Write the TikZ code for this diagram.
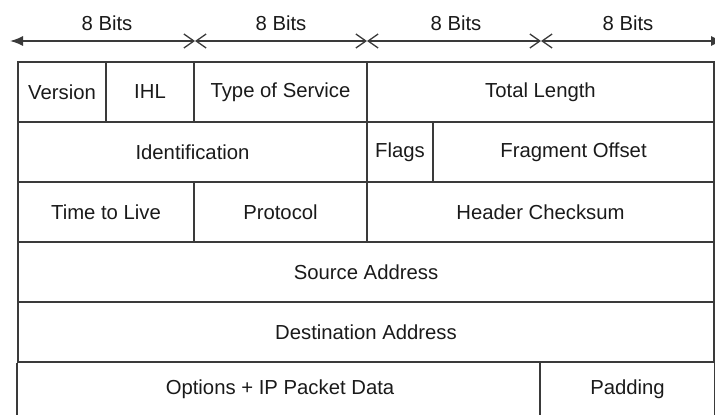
\documentclass[tikz,border=0pt]{standalone}
\usepackage{fontspec}
\setmainfont{Liberation Sans}
\usetikzlibrary{arrows.meta}
\definecolor{ln}{HTML}{3A3A3A}
\definecolor{tx}{HTML}{1A1A1A}
\tikzset{
  cell/.style={draw=ln, line width=1.6pt, inner sep=0pt, minimum height=60pt, text=tx,
    font=\fontsize{20.3}{24}\selectfont},
  lbl/.style={inner sep=0pt, text=tx, font=\fontsize{20.3}{24}\selectfont},
  rule/.style={draw=ln, line width=1.6pt},
  bitarrow/.style={draw=ln, line width=1.6pt},
  xb/.tip={Straight Barb[length=10pt,width=14pt,line width=1.3pt]},
  fb/.tip={Latex[length=13pt,width=10pt]},
}
\begin{document}
\begin{tikzpicture}[x=1pt,y=-1pt]
\useasboundingbox (0,0) rectangle (715,415);
\clip (0,0) rectangle (715,415);
% bit ruler
\coordinate (b0) at (10,41);
\coordinate (b1) at (195,41);
\coordinate (b2) at (367,41);
\coordinate (b3) at (541,41);
\coordinate (b4) at (724,41);
\draw[bitarrow, fb-xb] (b0) -- (b1);
\draw[bitarrow, xb-xb] (b1) -- (b2);
\draw[bitarrow, xb-xb] (b2) -- (b3);
\draw[bitarrow, xb-fb] (b3) -- (b4);
\node[lbl] (l1) at (107,23) {8 Bits};
\node[lbl] (l2) at (281,23) {8 Bits};
\node[lbl] (l3) at (456,23) {8 Bits};
\node[lbl] (l4) at (628,23) {8 Bits};
% row 1
\node[cell, minimum width=88] (ver) at (62,92) {Version};
\node[cell, minimum width=88] (ihl) at (150,92) {IHL};
\node[cell, minimum width=173] (tos) at (280.5,92) {Type of Service};
\node[cell, minimum width=347] (tlen) at (540.5,92) {Total Length};
% row 2
\node[cell, minimum width=349] (id) at (192.5,152) {Identification};
\node[cell, minimum width=66] (flags) at (400,152) {Flags};
\node[cell, minimum width=281] (frag) at (573.5,152) {Fragment Offset};
% row 3
\node[cell, minimum width=176] (ttl) at (106,212) {Time to Live};
\node[cell, minimum width=173] (proto) at (280.5,212) {Protocol};
\node[cell, minimum width=347] (hcs) at (540.5,212) {Header Checksum};
% rows 4, 5
\node[cell, minimum width=696] (src) at (366,272) {Source Address};
\node[cell, minimum width=696] (dst) at (366,332) {Destination Address};
% row 6 (open at the bottom)
\node[lbl] (opt) at (280,389) {Options + IP Packet Data};
\node[lbl] (pad) at (627.5,389) {Padding};
\draw[rule] (dst.south west) -- ++(0,60);
\draw[rule] (dst.south east) -- ++(0,60);
\draw[rule] (dst.south west) ++(523,0) coordinate (pdiv) -- ++(0,60);
\end{tikzpicture}
\end{document}
